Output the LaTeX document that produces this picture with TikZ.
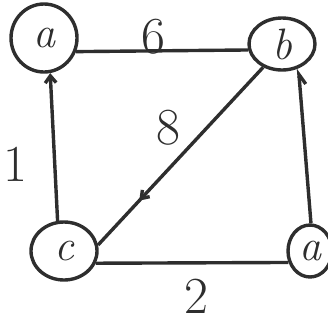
\documentclass[tikz,border=0pt]{standalone}
\usepackage{fontspec}
\usepackage{xcolor}
\usetikzlibrary{arrows.meta,shapes.geometric,decorations.markings}
\definecolor{pen}{HTML}{2E2E2E}

\begin{document}
\begin{tikzpicture}[x=1pt,y=-1pt,line width=3.4pt,draw=pen,text=pen,
  vtx/.style={draw,ellipse,inner sep=0pt,font=\fontsize{44}{44}\selectfont\itshape},
  wt/.style={inner sep=1pt,font=\fontsize{52}{52}\selectfont},
  tick/.style={postaction={decorate},decoration={markings,mark=at position #1 with {\arrow{Straight Barb[length=7pt,width=10pt]}}}}]
  \useasboundingbox (0,0) rectangle (328,325);
  \node[vtx,minimum width=66pt,minimum height=68pt] (a) at (44,38) {a};
  \node[vtx,minimum width=66pt,minimum height=52pt] (b) at (282,44) {b};
  \node[vtx,minimum width=66pt,minimum height=58pt] (c) at (64,251) {c};
  \node[vtx,minimum width=44pt,minimum height=52pt] (d) at (310,251) {a};
  \draw (a.-23) -- (b.190) node[wt,pos=0.45,above=-6pt] (w6) {6};
  \draw[-{Straight Barb[length=7pt,width=11pt]}] (c.102) -- (a.-80);
  \draw[tick=0.75] (b.-129) -- (c.10);
  \draw[-{Straight Barb[harpoon,swap,length=10pt,width=12pt]}] (d.88) -- (b.-56);
  \draw (c.-21) -- (d.208);
  \node[wt] (w8) at (168,128) {8};
  \node[wt] (w2) at (196,296) {2};
  \node[wt] (w1) at (15,164) {1};
\end{tikzpicture}
\end{document}
